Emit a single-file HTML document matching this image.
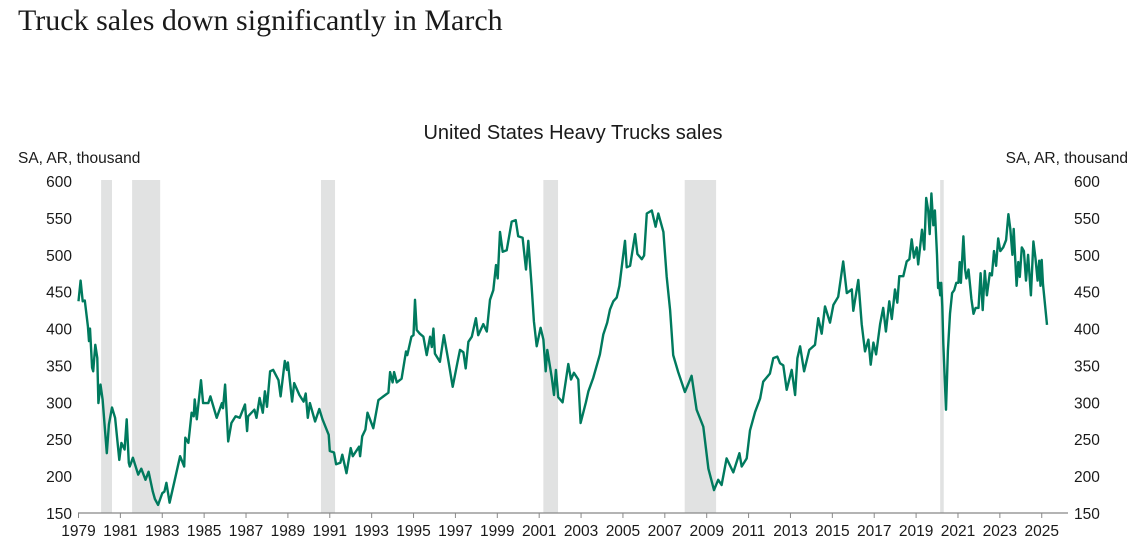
<!DOCTYPE html>
<html><head><meta charset="utf-8"><style>
body{margin:0;background:#fff;width:1137px;height:541px;overflow:hidden;}
svg text{font-family:"Liberation Sans",sans-serif;fill:#1a1a1a;}
</style></head><body>
<svg id="c" width="1137" height="541">
<text x="18" y="30" style="font-family:'Liberation Serif',serif;font-size:30px">Truck sales down significantly in March</text>
<text x="573" y="139" text-anchor="middle" style="font-size:20px">United States Heavy Trucks sales</text>
<text x="18" y="163" style="font-size:15.5px">SA, AR, thousand</text>
<text x="1128" y="163" text-anchor="end" style="font-size:15.5px">SA, AR, thousand</text>
<g id="bands"></g><g id="axes"></g><g id="series"></g>
</svg>
<script>
const recStart=[1980.08,1981.56,1990.58,2001.2,2007.95,2020.15];
const recEnd=[1980.6,1982.9,1991.25,2001.9,2009.45,2020.32];
const yTicks=[150,200,250,300,350,400,450,500,550,600];
const xTicks=[1979,1981,1983,1985,1987,1989,1991,1993,1995,1997,1999,2001,2003,2005,2007,2009,2011,2013,2015,2017,2019,2021,2023,2025];
const years=[1979.0,1979.1,1979.2,1979.3,1979.45,1979.5,1979.55,1979.65,1979.7,1979.8,1979.9,1979.95,1980.05,1980.15,1980.35,1980.45,1980.6,1980.75,1980.95,1981.05,1981.2,1981.3,1981.4,1981.45,1981.6,1981.85,1982.0,1982.2,1982.35,1982.55,1982.65,1982.8,1983.0,1983.1,1983.2,1983.35,1983.6,1983.85,1984.05,1984.1,1984.25,1984.4,1984.5,1984.55,1984.65,1984.85,1984.95,1985.2,1985.3,1985.6,1985.85,1985.9,1986.0,1986.15,1986.3,1986.5,1986.7,1986.95,1987.05,1987.1,1987.4,1987.5,1987.65,1987.8,1987.9,1988.0,1988.15,1988.3,1988.55,1988.65,1988.85,1988.95,1989.0,1989.2,1989.3,1989.55,1989.75,1989.85,1989.95,1990.05,1990.3,1990.5,1990.65,1990.95,1991.0,1991.2,1991.3,1991.5,1991.6,1991.8,1992.0,1992.1,1992.4,1992.45,1992.55,1992.7,1992.8,1993.08,1993.32,1993.56,1993.8,1993.88,1994.0,1994.07,1994.2,1994.43,1994.64,1994.7,1994.9,1995.0,1995.07,1995.15,1995.3,1995.47,1995.63,1995.79,1995.87,1995.95,1996.02,1996.26,1996.45,1996.66,1996.87,1997.09,1997.22,1997.38,1997.49,1997.62,1997.78,1997.98,1998.09,1998.33,1998.5,1998.65,1998.81,1998.94,1999.02,1999.13,1999.26,1999.45,1999.69,1999.88,2000.0,2000.21,2000.37,2000.48,2000.64,2000.75,2000.88,2001.07,2001.2,2001.31,2001.39,2001.6,2001.71,2001.8,2001.91,2002.12,2002.39,2002.52,2002.66,2002.87,2002.98,2003.23,2003.35,2003.58,2003.9,2004.06,2004.25,2004.38,2004.54,2004.7,2004.83,2004.94,2005.1,2005.18,2005.34,2005.58,2005.69,2005.9,2006.01,2006.14,2006.38,2006.56,2006.69,2006.93,2007.09,2007.25,2007.4,2007.64,2007.96,2008.12,2008.28,2008.52,2008.84,2009.08,2009.35,2009.55,2009.71,2009.95,2010.27,2010.56,2010.67,2010.91,2011.07,2011.31,2011.55,2011.7,2012.02,2012.18,2012.37,2012.5,2012.66,2012.82,2013.06,2013.22,2013.33,2013.46,2013.65,2013.9,2014.17,2014.33,2014.49,2014.65,2014.89,2015.05,2015.28,2015.52,2015.69,2015.93,2016.0,2016.24,2016.4,2016.56,2016.72,2016.83,2016.96,2017.09,2017.28,2017.43,2017.56,2017.72,2017.84,2017.99,2018.1,2018.2,2018.39,2018.55,2018.68,2018.79,2018.9,2019.03,2019.1,2019.28,2019.39,2019.48,2019.58,2019.65,2019.73,2019.82,2019.9,2020.0,2020.05,2020.1,2020.15,2020.2,2020.25,2020.3,2020.43,2020.52,2020.62,2020.72,2020.82,2020.92,2021.02,2021.08,2021.14,2021.26,2021.34,2021.4,2021.5,2021.64,2021.74,2021.84,2021.98,2022.08,2022.18,2022.28,2022.38,2022.52,2022.62,2022.72,2022.82,2022.92,2023.02,2023.16,2023.3,2023.41,2023.5,2023.6,2023.66,2023.8,2023.88,2023.95,2024.05,2024.15,2024.25,2024.35,2024.48,2024.6,2024.7,2024.8,2024.88,2024.94,2025.0,2025.06,2025.25];
const sales=[437,465,437,438,403,383,400,347,342,378,360,299,324,304,231,270,293,279,222,245,236,277,218,213,225,202,210,195,206,179,169,161,177,179,191,164,195,227,213,252,245,286,281,304,277,330,299,299,308,279,299,292,324,247,272,281,279,297,261,281,290,279,306,286,315,294,342,344,330,308,356,344,354,301,326,310,301,312,279,299,274,291,277,256,234,232,216,218,229,204,238,227,240,227,254,263,286,265,303,308,313,341,327,341,327,332,369,364,389,391,439,398,393,389,364,389,375,400,366,355,391,357,321,353,371,368,346,382,389,414,391,406,396,439,452,486,468,531,504,506,545,547,525,523,480,519,458,410,376,401,385,342,371,334,310,344,307,300,352,331,340,331,272,300,315,333,365,392,408,426,437,442,458,483,519,483,485,528,501,494,499,556,560,538,556,531,470,425,364,341,314,325,336,290,267,210,181,195,188,224,205,231,213,224,262,287,305,328,339,360,362,353,350,317,344,310,360,376,342,371,378,414,393,430,408,432,443,491,448,453,424,466,406,369,385,351,381,365,406,428,396,437,413,453,435,471,471,491,494,521,496,510,487,534,507,577,560,528,583,540,560,500,455,462,445,462,430,380,290,370,420,448,452,462,462,490,462,525,480,468,480,440,420,428,428,475,425,478,445,475,472,505,485,522,505,510,520,555,535,500,535,458,490,470,510,505,465,500,445,518,495,465,492,458,493,460,405];
const X0=78.5,PXY=20.94,Y0=513,PXV=0.7378;
const xs=y=>X0+(y-1979)*PXY, ys=v=>Y0-(v-150)*PXV;
const NS="http://www.w3.org/2000/svg";
function mk(t,a,p){const e=document.createElementNS(NS,t);for(const k in a)e.setAttribute(k,a[k]);p.appendChild(e);return e;}
const bands=document.getElementById('bands'),axes=document.getElementById('axes'),series=document.getElementById('series');
recStart.forEach((s,i)=>{const r=mk('rect',{x:xs(s),y:180,width:xs(recEnd[i])-xs(s),height:Y0-180,fill:'#e1e2e2'},bands);

});
const al=mk('line',{x1:78,x2:1068,y1:Y0,y2:Y0,stroke:'#888','stroke-width':1.2},axes);


xTicks.forEach(t=>{mk('line',{x1:xs(t),x2:xs(t),y1:Y0,y2:Y0+5,stroke:'#888'},axes);
const tx=mk('text',{x:xs(t),y:536,'text-anchor':'middle','font-size':'15.5'},axes);tx.textContent=t;

});
yTicks.forEach(v=>{const a=mk('text',{x:72,y:ys(v)+6,'text-anchor':'end','font-size':'15.5'},axes);a.textContent=v;


const b=mk('text',{x:1074,y:ys(v)+6,'font-size':'15.5'},axes);b.textContent=v;

});
const d=years.map((y,i)=>(i?'L':'M')+xs(y).toFixed(1)+','+ys(sales[i]).toFixed(1)).join('');
const p=mk('path',{d:d,fill:'none',stroke:'#007a5e','stroke-width':2.4,'stroke-linejoin':'round'},series);


</script>
</body></html>
